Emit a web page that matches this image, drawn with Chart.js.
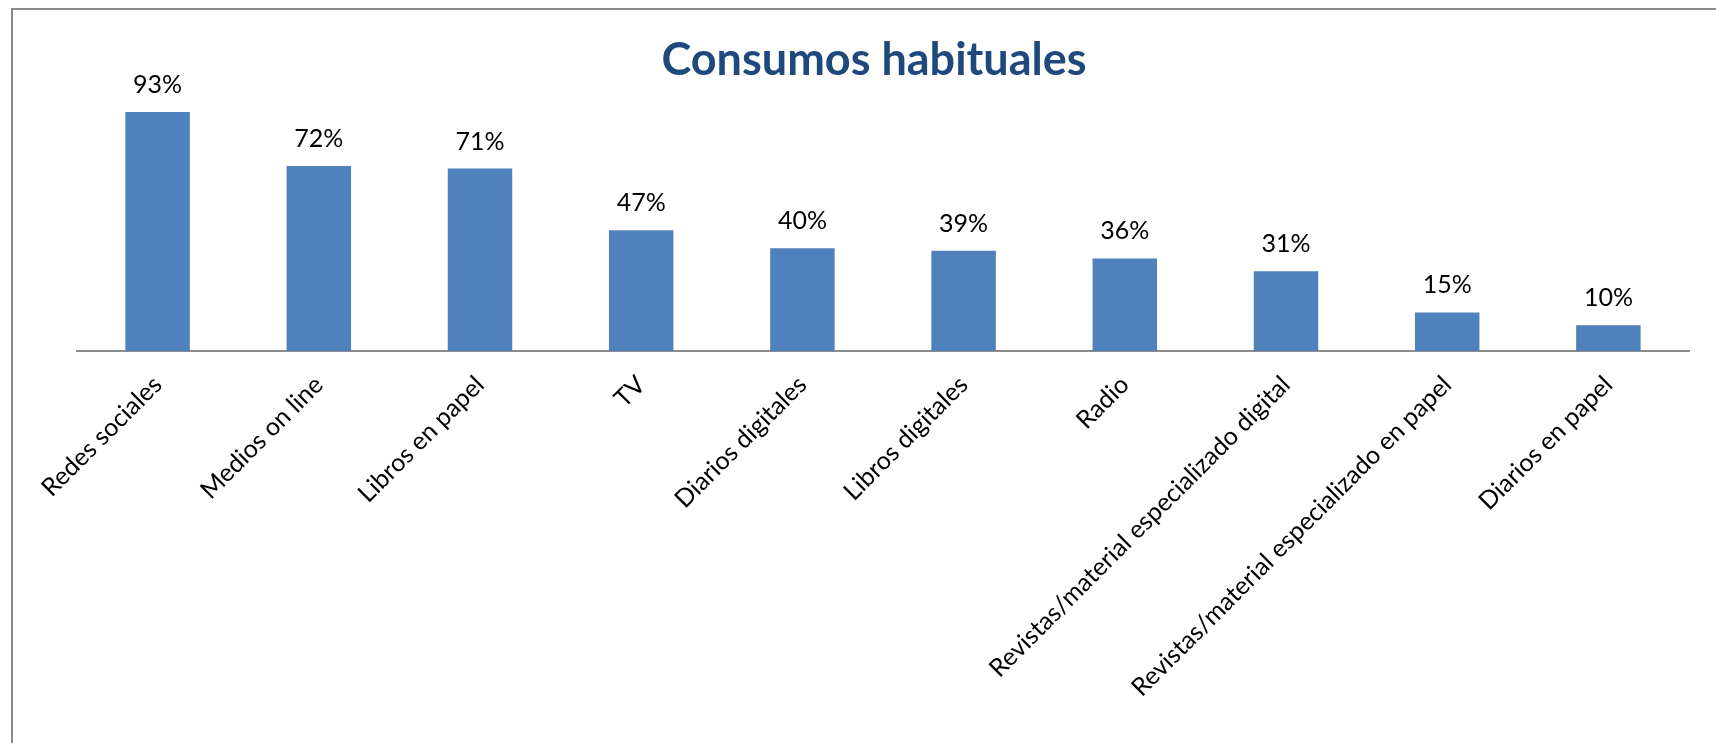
<!DOCTYPE html>
<html><head><meta charset="utf-8">
<script src="https://cdn.jsdelivr.net/npm/chart.js@4.4.0/dist/chart.umd.min.js"></script>
<style>
html,body{margin:0;padding:0;background:#fff;}
#wrap{position:relative;width:1716px;height:743px;overflow:hidden;background:#fff;}
#frame{position:absolute;left:11px;top:8px;width:1800px;height:800px;border-left:2px solid #8a8a8a;border-top:2px solid #8a8a8a;}
canvas{position:absolute;left:0;top:0;}
</style></head><body>
<div id="wrap"><div id="frame"></div><canvas id="c" width="1716" height="743"></canvas></div>
<script>
const chartTitle = 'Consumos habituales';
const categories = ['Redes sociales','Medios on line','Libros en papel','TV','Diarios digitales','Libros digitales','Radio','Revistas/material especializado digital','Revistas/material especializado en papel','Diarios en papel'];
const values = [93,72,71,47,40,39,36,31,15,10];
const valueLabels = values.map(v => v + '%');

const labelPlugin = {
  id: 'valueLabels',
  afterDatasetsDraw(chart) {
    const ctx = chart.ctx;
    const meta = chart.getDatasetMeta(0);
    ctx.save();
    ctx.font = '25px Lato';
    ctx.fillStyle = '#000';
    ctx.textAlign = 'center';
    ctx.textBaseline = 'alphabetic';
    meta.data.forEach((bar, i) => {
      ctx.fillText(valueLabels[i], bar.x, bar.y - 19);
    });
    ctx.restore();
  }
};

new Chart(document.getElementById('c'), {
  type: 'bar',
  data: {
    labels: categories,
    datasets: [{
      data: values,
      backgroundColor: '#4F81BD',
      borderWidth: 0,
      barPercentage: 0.4,
      categoryPercentage: 1.0
    }]
  },
  plugins: [labelPlugin],
  options: {
    responsive: false,
    animation: false,
    events: [],
    layout: { padding: { left: 59, right: 27, top: 0, bottom: 0 } },
    plugins: {
      legend: { display: false },
      tooltip: { enabled: false },
      title: {
        display: true,
        text: chartTitle,
        color: '#1F497D',
        font: { family: 'Lato', size: 45, weight: 'bold' },
        padding: { top: 33, bottom: 7 }
      }
    },
    scales: {
      y: {
        display: true,
        min: 0,
        max: 100,
        grid: { display: false, drawTicks: false },
        border: { display: false },
        ticks: { display: false },
        afterFit(scale) { scale.width = 18; }
      },
      x: {
        grid: { display: false, drawTicks: false },
        border: { display: true, color: '#8c8c8c', width: 2 },
        ticks: {
          color: '#000',
          font: { family: 'Lato', size: 25 },
          minRotation: 45,
          maxRotation: 45,
          autoSkip: false,
          padding: 19
        },
        afterFit(scale) { scale.height = 392; }
      }
    }
  }
});
</script>
</body></html>
